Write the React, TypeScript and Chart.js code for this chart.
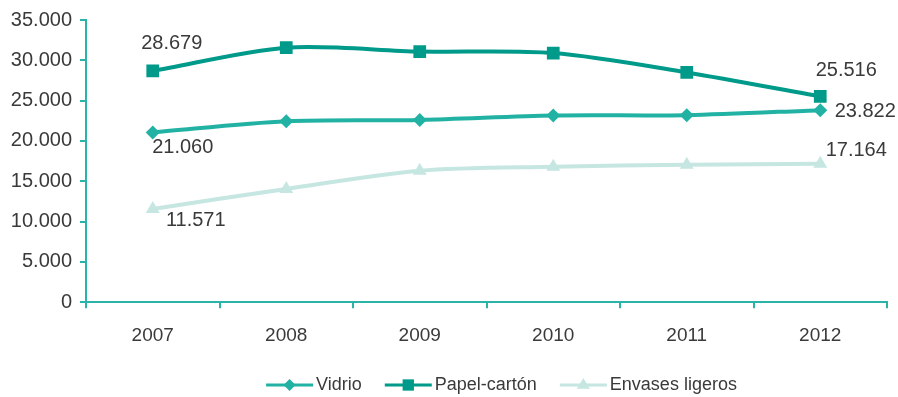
import React, { useEffect, useRef } from "react";
import { Chart, registerables } from "chart.js";

Chart.register(...registerables);

const years = ["2007", "2008", "2009", "2010", "2011", "2012"];
const vidrio = [21060, 22440, 22600, 23150, 23200, 23822];
const papel = [28679, 31560, 31080, 30900, 28500, 25516];
const envases = [11571, 14050, 16300, 16800, 17050, 17164];
const yTicks = [0, 5000, 10000, 15000, 20000, 25000, 30000, 35000];

const seriesNames = ["Vidrio", "Papel-cartón", "Envases ligeros"];
const colors = ["#22b2a4", "#009a8a", "#c6e6e2"];
const pointStyles = ["rectRot", "rect", "triangle"];
const pointRadii = [7, 9, 8];

// label placement: [datasetIndex, pointIndex, dx, dy]
const labelSpots: [number, number, number, number][] = [
  [0, 0, 30, 15],
  [0, 5, 45, 1],
  [1, 0, 19, -27],
  [1, 5, 26, -26],
  [2, 0, 43, 12],
  [2, 5, 36, -13],
];

const FONT = "'Liberation Sans', Arial, sans-serif";
const TEXT = "#3a3a3a";
const AXIS = "#2ab3a6";

function fmt(v: number) {
  return v.toLocaleString("de-DE");
}

function drawMarker(ctx: CanvasRenderingContext2D, style: string, x: number, y: number, r: number) {
  ctx.beginPath();
  if (style === "rect") {
    const s = r * Math.SQRT1_2;
    ctx.rect(x - s, y - s, 2 * s, 2 * s);
  } else if (style === "rectRot") {
    ctx.moveTo(x - r, y);
    ctx.lineTo(x, y - r);
    ctx.lineTo(x + r, y);
    ctx.lineTo(x, y + r);
    ctx.closePath();
  } else {
    ctx.moveTo(x, y - r);
    ctx.lineTo(x + r * 0.95, y + r * 0.55);
    ctx.lineTo(x - r * 0.95, y + r * 0.55);
    ctx.closePath();
  }
  ctx.fill();
}

export default function App() {
  const ref = useRef<HTMLCanvasElement>(null);
  useEffect(() => {
    document.body.style.margin = "0";
    const datas = [vidrio, papel, envases];
    const legendRadii = [6, 8, 7];
    const labelPlugin = {
      id: "valueLabels",
      afterDatasetsDraw(chart: any) {
        const ctx = chart.ctx;
        ctx.save();
        ctx.font = `20px ${FONT}`;
        ctx.fillStyle = TEXT;
        ctx.textAlign = "center";
        ctx.textBaseline = "middle";
        for (const [ds, idx, dx, dy] of labelSpots) {
          const pt = chart.getDatasetMeta(ds).data[idx];
          ctx.fillText(fmt(datas[ds][idx]), pt.x + dx, pt.y + dy);
        }
        ctx.restore();
      },
    };
    const legendPlugin = {
      id: "customLegend",
      afterDraw(chart: any) {
        const ctx = chart.ctx as CanvasRenderingContext2D;
        ctx.save();
        ctx.font = `18px ${FONT}`;
        const lineW = 47, gapTxt = 3, gapItem = 23;
        const widths = seriesNames.map((n) => lineW + gapTxt + ctx.measureText(n).width);
        const total = widths.reduce((a, b) => a + b, 0) + gapItem * (widths.length - 1);
        const ca = chart.chartArea;
        let x = (ca.left + ca.right) / 2 + 15 - total / 2;
        const y = chart.height - 12;
        seriesNames.forEach((n, i) => {
          ctx.strokeStyle = colors[i];
          ctx.fillStyle = colors[i];
          ctx.lineWidth = 3;
          ctx.beginPath();
          ctx.moveTo(x, y);
          ctx.lineTo(x + lineW, y);
          ctx.stroke();
          drawMarker(ctx, pointStyles[i], x + lineW / 2, y, legendRadii[i]);
          ctx.fillStyle = TEXT;
          ctx.textAlign = "left";
          ctx.textBaseline = "middle";
          ctx.fillText(n, x + lineW + gapTxt, y);
          x += widths[i] + gapItem;
        });
        ctx.restore();
      },
    };
    const chart = new Chart(ref.current!, {
      type: "line",
      data: {
        labels: years,
        datasets: datas.map((d, i) => ({
          label: seriesNames[i],
          data: d,
          borderColor: colors[i],
          backgroundColor: colors[i],
          borderWidth: 4,
          pointStyle: pointStyles[i] as any,
          pointRadius: pointRadii[i],
          pointBorderWidth: 0,
          tension: 0.3,
        })),
      },
      options: {
        animation: false,
        responsive: false,
        layout: { padding: { top: 9, right: 11, left: 0, bottom: 34 } },
        plugins: {
          tooltip: { enabled: false },
          legend: { display: false },
        },
        scales: {
          x: {
            offset: true,
            grid: { display: true, drawOnChartArea: false, color: AXIS, lineWidth: 2, tickLength: 6, offset: true },
            border: { color: AXIS, width: 2 },
            ticks: { color: TEXT, font: { size: 19, family: FONT }, padding: 16 },
          },
          y: {
            min: 0,
            max: 35000,
            afterFit: (s: any) => {
              s.width = 86;
            },
            afterBuildTicks: (s: any) => {
              s.ticks = yTicks.map((v) => ({ value: v }));
            },
            grid: { display: true, drawOnChartArea: false, color: AXIS, lineWidth: 2, tickLength: 6 },
            border: { color: AXIS, width: 2 },
            ticks: {
              color: TEXT,
              font: { size: 20, family: FONT },
              padding: 8,
              callback: (v: any) => fmt(Number(v)),
            },
          },
        },
      },
      plugins: [labelPlugin, legendPlugin],
    });
    return () => chart.destroy();
  }, []);
  return <canvas ref={ref} width={898} height={397} style={{ display: "block" }} />;
}
